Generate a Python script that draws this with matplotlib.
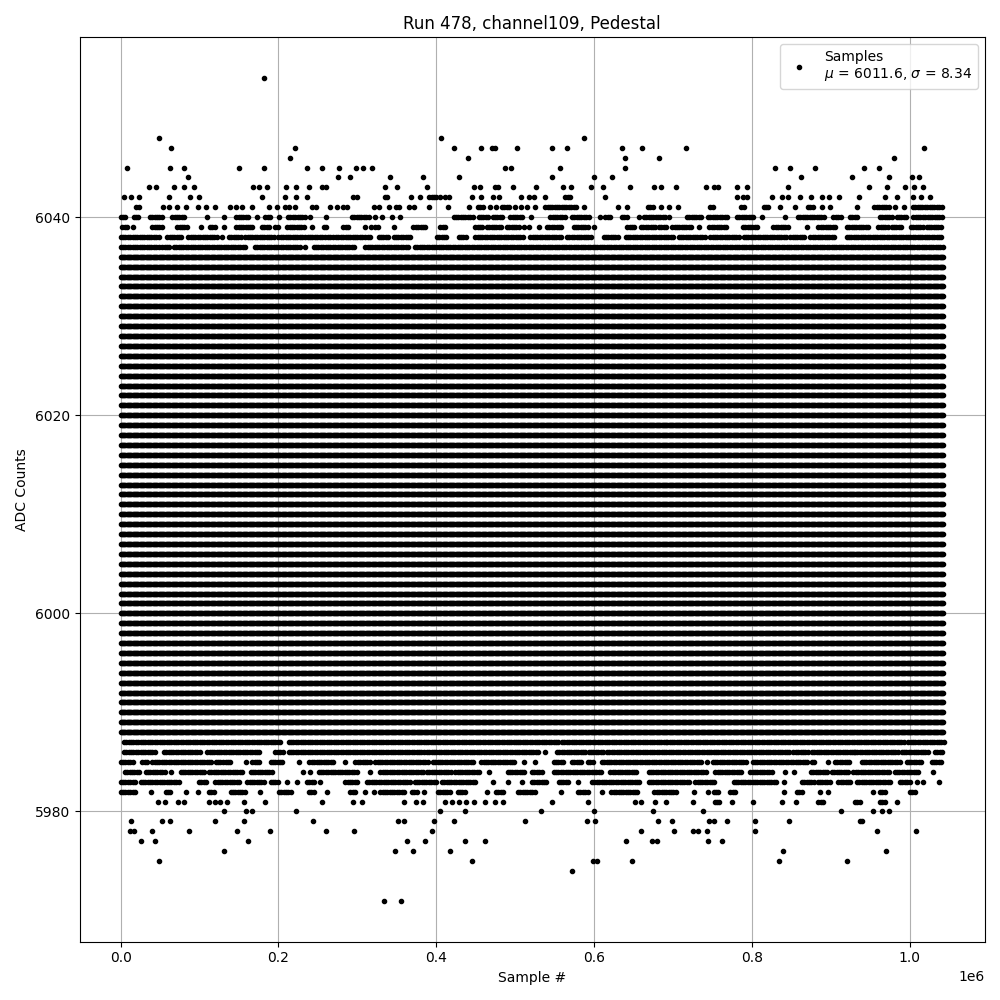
import matplotlib
matplotlib.use("Agg")
import matplotlib.pyplot as plt
import numpy as np

run_number = 478
channel = 109
mean_adc = 6011.6
sigma_adc = 8.34

# sample axis is stored in thousands of samples
last_sample_k = 1042.0
solid_step_k = 1.5
run_step_k = 3.0

# ADC levels hit along the whole run
solid_low = 5988
solid_high = 6036

# sparse / partly filled levels: single samples (k) or (start, end) stretches (k)
level_6054 = [181.9]
level_6048 = [48.9, 405.9, 587.7]
level_6047 = [63.7, 221.1, 422.4, 456.7, 471, 474.8, 502.3, 546.7, 566.2, 635.5,
              660.9, 716.7, 1017.7]
level_6046 = [214.3, 440.2, 638.9, 682.5, 979.7]
level_6045 = [8.4, 62.9, 80.6, 150.2, 181.9, 236.3, 255.3, 276.4, 298.3, 307.2,
              318.6, 487.5, 494.7, 556.9, 639.7, 829.1, 848.1, 879.7, 941.8, 960.8]
level_6044 = [85.7, 275.5, 291.1, 341.8, 383.1, 428.8, 546.7, 600, 622.8, 862,
              926.6, 973.4, 1002.5, 1011.8]
level_6043 = [36.3, 45.1, 67.9, 80.6, 92.8, 167.5, 175.5, 185.2, 210.1, 222.4,
              238.8, 254.9, 259.9, 335, 350.6, 388.2, 447.8, 455.4, 474, 477.8,
              497.3, 526.4, 560.7, 570.8, 596.2, 611.4, 646.1, 676.1, 685, 704,
              742.2, 752.3, 757, 781, 793.7, 845.6, 948.1, 970.9, 994.1, 1005,
              1016.5]
level_6042 = [4.6, 13.5, 22.8, 61.2, 88.2, 99.6, 178.9, 208.4, 222.4, 236.3,
              294.1, 299.2, 335, 338, 367.9, 379.3, (391, 398.7), 405, 411.4,
              415.6, 445, 457, 471.5, 479, 507.4, 518, 524.3, 537.8, (563.6, 570),
              614, 781, 788.6, 793.7, 825.3, 838, 846.4, 860.8, 874.7, 889, 897.5,
              910.1, 935.4, 968.8, 983.5, 1003.8, 1013.9, 1025.3]
level_6041 = [(19.8, 22.8), 53.6, 61.2, 70.9, 83.1, 98.3, 108.4, 119.8, 138.8,
              146.4, 153.2, 166.7, 188.2, 197.5, 208.4, 213.1, 221.1, 242.6, 247.7,
              265.4, 274.7, 281.9, 286.9, 321.1, 327.4, 340.5, (349.4, 352), 365.8,
              372, 390.7, 414.8, 441, (452.9, 460), 468.5, 475.7, (483.3, 491.8),
              500.2, 507, 514.6, 525.6, (538, 576.3), 587.7, 630.4, 641.4,
              (668.5, 675.7), 685.4, 694.7, 706.6, (747.3, 751.5), (786.5, 790.7),
              (814.8, 820.3), 835.4, 854.4, (870.9, 877.2), 889, 898.7, 933.3,
              (955.3, 973), 981.9, 992.8, (1004.2, 1019.4), (1022.4, 1040.5)]
level_6040 = [(0, 5.5), (16.5, 22.4), (37.1, 52.7), (65.4, 81.4), 109.7, 131.2,
              (146.4, 160.3), 172.6, (183.5, 189.9), 200.8, (212.2, 232.9), 240.1,
              260.3, (293.2, 315.2), 322.4, 331.2, 343.9, 354.3, (422, 445.2),
              (453.7, 466.4), (471.5, 483.3), (493.9, 508.7), 520, (544.6, 561.5),
              (572, 593.2), 608, (614.4, 620.7), (635.5, 642), 656.7, (663, 690.5),
              694.7, (717.7, 734.6), (744.3, 768.8), (781, 800.8), 812.7, 842.2,
              (858.2, 876), (879, 892), (903.4, 911.8), (924.5, 932.9),
              (962.4, 977.2), (983.5, 995), (1004.6, 1040.5)]
level_6039 = [(2, 8.4), 16, (40, 50.6), (71.7, 84.4), 101.7, (113, 119.4), 130.8,
              (146.4, 158.2), (160.8, 167.5), (179, 188), (196, 200), (211, 232),
              242.6, (257.8, 262), (282, 287), 309.3, 317.7, (322.8, 326), 345.9,
              (371, 386), (405, 411.4), (449.5, 458), (464, 481), (489.6, 504.4),
              510.8, 517, 529.8, (540.4, 559.4), (574, 591), 600, (641.9, 652.4),
              (659.6, 677.8), (682, 690.5), (699, 722), 733.3, 745.1,
              (749.4, 766.2), (788.6, 806.3), (827.4, 846.4), 869.6,
              (884.4, 905.5), (920.3, 947.7), (960.3, 970.9), (977.2, 989.9),
              (1001.7, 1017.3), (1021.5, 1040.5)]
level_6038 = [(0, 48.5), (59, 78), (85.7, 120.3), 128.7, (137, 152), (158, 194),
              (200, 230.8), (234, 255), (259.5, 268), (273, 306), (310, 316.5),
              (327, 340), (346, 367), (400.8, 411.4), (428.3, 436.8),
              (449.5, 508.7), (519.2, 559.4), (565.8, 595.8), (612, 629),
              (640, 699), (707, 738.8), (747.3, 783.1), (789.5, 842.2),
              (848.5, 867.5), (874.2, 905.5), (920, 1040.5)]
level_6037 = [(0, 47.7), (52.7, 61), (67.5, 158), (170, 225.7), 234,
              (244.7, 268), (272, 297.5), (310, 365), (373, 1042)]

level_5987 = [(4.2, 202.5), (213, 500.2), (503.6, 555.2), (559.4, 690.5),
              (692.6, 994.1), (998.3, 1042)]
level_5986 = [(4.2, 44.3), (54.9, 101.3), (109.7, 177.2), (196.2, 204.6),
              (213, 384), (388.2, 479), (481.2, 529.8), 538.3, (553.1, 589),
              (593.2, 610), (616.5, 846.4), (852.7, 869.6), (876, 928.7),
              (930.8, 985.7), (989.9, 1021.5), (1032.1, 1040.5)]
level_5985 = [(0, 14.8), (27.4, 33.8), (40, 114), (120.3, 128.7), (133, 139.2),
              158.2, (166.7, 177.2), (190, 204.6), 225.7, (239.2, 270), 284.8,
              (297.5, 314.3), (322.8, 360.7), (364.9, 388.2), (395.8, 447.4),
              (457, 498), 510.8, 524.7, (548.8, 559.4), (572, 584.8),
              (592, 597.5), (610, 734.6), 743, (750.2, 793.7), (800.8, 842.2),
              (846.4, 871.7), (876, 880.2), 896.2, (905.5, 924.5), (939.2, 987.8),
              (996.2, 1015.2), (1027.8, 1040.5)]
level_5984 = [(5.5, 23.2), (31.6, 57), 63.3, (75.9, 105.5), (111.8, 154.9),
              (164.6, 192), 230.8, 240.5, (251, 299.6), 316.5, (329, 381.8),
              (388.2, 417.8), (424.1, 453.7), 466.4, (490.5, 510.8), (521.4, 534),
              (548.8, 610.1), (620.7, 654.5), (669.3, 740.9), (753.6, 787.3),
              (797.9, 825.3), 842.2, 854, (874.7, 894.9), (901.3, 922.4),
              (928.7, 973), (981, 1010.5), 1029.9]
level_5983 = [(0, 19), (25.3, 42.2), (46.4, 73.8), (99, 107.6), (120, 149.8),
              (160.3, 181.4), (190, 200.4), 211, 223.6, (236.3, 244.7), 253,
              (284.8, 299.6), (312.2, 365), (372.5, 398.7), (407.2, 449.5), 471.9,
              491, 508.7, (521.4, 540.4), (555, 567.9), 579.7, (597.5, 656.7),
              (669.3, 720), (728.3, 751.5), (776.8, 829.5), 840.5, (863.3, 878),
              (883.5, 899.2), (909.7, 924.5), (933, 975.1), (987.8, 1000.4),
              1008.9, 1017.3, 1037.1]
level_5982 = [(0, 18.1), 38.8, (57, 63.3), 83.1, 98.3, (111.8, 119),
              (139.2, 158.2), 176.8, (200.4, 215.2), (238.4, 244.7), 262,
              (291, 296.6), 309.3, 321.1, (329, 358.6), (369.1, 375.5), 384.4,
              (402, 415.6), (427, 434.7), 464.3, (475.7, 484.6), (503.6, 524.3),
              558.1, (579.7, 592.4), 610.1, (622, 654.5), (676.5, 703.2), 726.2,
              744.3, (751.5, 757), (772.6, 779), 840.5, (857, 864.1), 886.1, 897,
              953.2, (962.4, 968.8), (1000.4, 1007.6)]
level_5981 = [47.7, 56.1, 73, 80.6, 112.2, 119.4, 125.3, 135, 156.5, 183.1, 255.3,
              294.5, 305.9, 358.6, 374.2, 383.1, 411.4, 419.9, 428.3, 437.6, 448.2,
              461.7, 474.8, 484.6, 546.7, 592.4, 652.4, 659.6, 677.4, 691.3, 725.3,
              (752.7, 757.8), 774.7, 801.3, 838, 855.7, (884.4, 889.5),
              (930.8, 938), (962.4, 967.5), 983.5]
level_5980 = [131.2, 158.6, 166.7, 222.4, 404.2, 436.4, 532.8, 600, 674.8, 738,
              912.7, 953.2, 964.6, 973.8]
level_5979 = [12.7, 52.7, 62.9, 119.8, 156.5, 243.9, 351.5, 358.6, 397, 422.4,
              512.5, 591.1, 601.7, 681.2, 698.9, 746, 751.9, 768.4, 803.8, 846.8,
              937.1, 939.2]
level_5978 = [11.8, 16.9, 40.1, 86.9, 147.7, 189.5, 260.3, 295.8, 394.5, 659.6,
              701.5, 724.9, 731.2, 743, 804.2, 958.2, 1007.6]
level_5977 = [26.2, 43.9, 161.6, 362.8, 385.2, 436.4, 461.7, 640.6, 673.6, 679.9,
              744.3, 762]
level_5976 = [131.2, 347.7, 370.4, 417.3, 839.2, 969.6]
level_5975 = [48.9, 445.2, 598.7, 603.8, 648.2, 833.8, 920.3]
level_5974 = [571.7]
level_5971 = [333.8, 355.2]


def expand(entries, step):
    """Turn singles and (start, end) stretches into sample positions (k)."""
    xs = []
    for e in entries:
        if isinstance(e, tuple):
            xs.append(np.arange(e[0], e[1] + step / 2, step))
        else:
            xs.append(np.array([e]))
    return np.concatenate(xs)


sparse_levels = {
    6054: level_6054, 6048: level_6048, 6047: level_6047, 6046: level_6046,
    6045: level_6045, 6044: level_6044, 6043: level_6043, 6042: level_6042,
    6041: level_6041, 6040: level_6040, 6039: level_6039, 6038: level_6038,
    6037: level_6037, 5987: level_5987, 5986: level_5986, 5985: level_5985,
    5984: level_5984, 5983: level_5983, 5982: level_5982, 5981: level_5981,
    5980: level_5980, 5979: level_5979, 5978: level_5978, 5977: level_5977,
    5976: level_5976, 5975: level_5975, 5974: level_5974, 5971: level_5971,
}

xs, ys = [], []
full_row = expand([(0, last_sample_k)], solid_step_k)
for level in range(solid_low, solid_high + 1):
    xs.append(full_row)
    ys.append(np.full(full_row.size, level))
for level, entries in sparse_levels.items():
    row = expand(entries, run_step_k)
    xs.append(row)
    ys.append(np.full(row.size, level))

x = np.concatenate(xs) * 1e3
y = np.concatenate(ys)

fig, ax = plt.subplots(figsize=(10, 10), dpi=100)
ax.plot(x, y, ".", color="black",
        label=f"Samples\n$\\mu$ = {mean_adc}, $\\sigma$ = {sigma_adc}")
ax.set_title(f"Run {run_number}, channel{channel}, Pedestal")
ax.set_xlabel("Sample #")
ax.set_ylabel("ADC Counts")
ax.grid(True)
ax.legend(loc="upper right")

fig.tight_layout()
fig.savefig("out.png")
